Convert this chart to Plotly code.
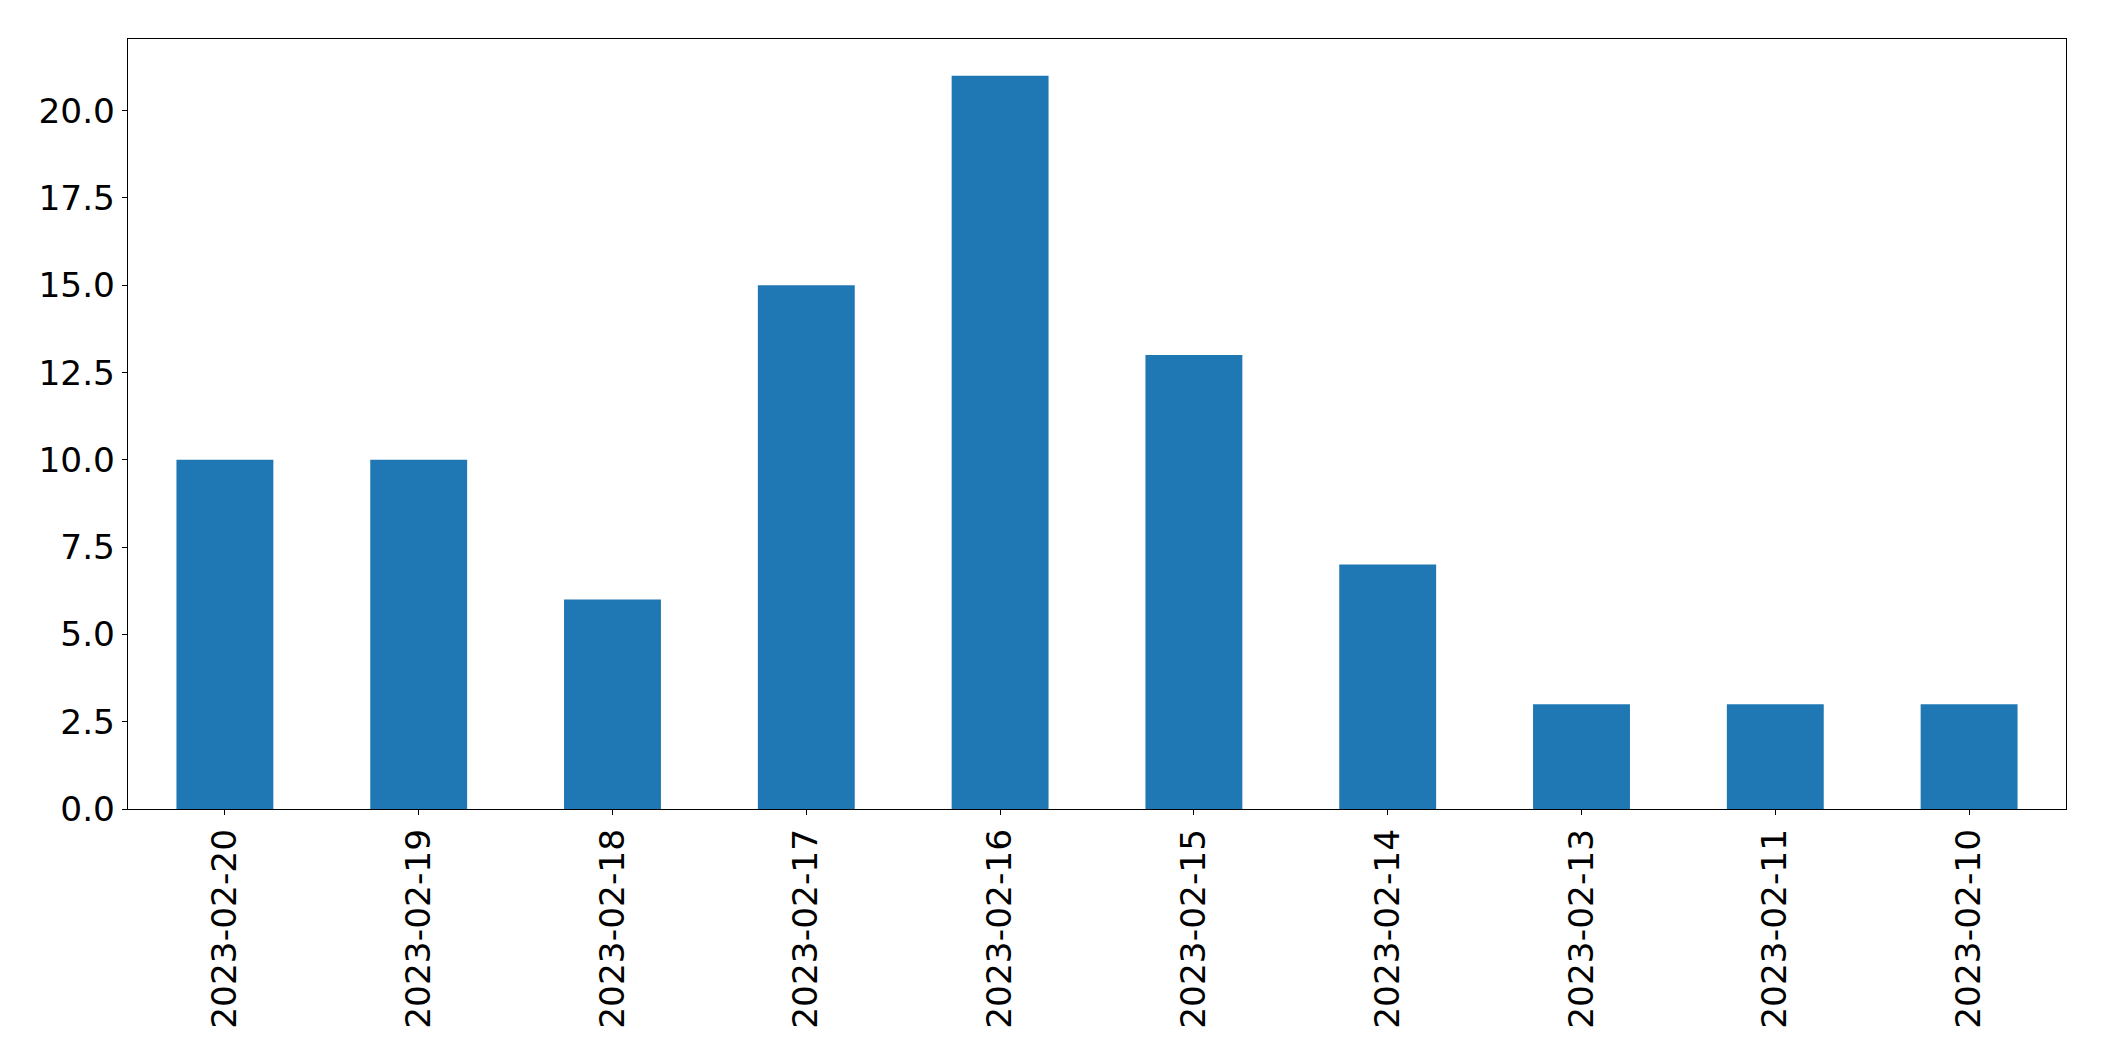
import plotly.graph_objects as go

dates = ["2023-02-20", "2023-02-19", "2023-02-18", "2023-02-17", "2023-02-16",
         "2023-02-15", "2023-02-14", "2023-02-13", "2023-02-11", "2023-02-10"]
counts = [10, 10, 6, 15, 21, 13, 7, 3, 3, 3]
y_ticks = [0, 2.5, 5, 7.5, 10, 12.5, 15, 17.5, 20]

fig = go.Figure(go.Bar(x=dates, y=counts, marker_color="#1f77b4",
                       marker_line_width=0, width=0.5))

font = dict(family="DejaVu Sans", size=34.4, color="black")
fig.update_layout(
    width=2096, height=1053,
    margin=dict(l=120, r=38, t=31, b=252),
    paper_bgcolor="white", plot_bgcolor="white",
    showlegend=False, font=font, bargap=0.5,
)
fig.update_xaxes(type="category", range=[-0.5, 9.5], tickangle=-90,
                 showline=True, linecolor="black", linewidth=1.3, mirror=True,
                 ticks="outside", ticklen=5, tickcolor="black", tickwidth=1.3,
                 showgrid=False, tickfont=font)
fig.update_yaxes(range=[0, 22.05], tickvals=y_ticks,
                 ticktext=[f"{v:.1f}" for v in y_ticks],
                 showline=True, linecolor="black", linewidth=1.3, mirror=True,
                 ticks="outside", ticklen=5, tickcolor="black", tickwidth=1.3,
                 showgrid=False, zeroline=False, tickfont=font)

fig.write_html("out.html")
